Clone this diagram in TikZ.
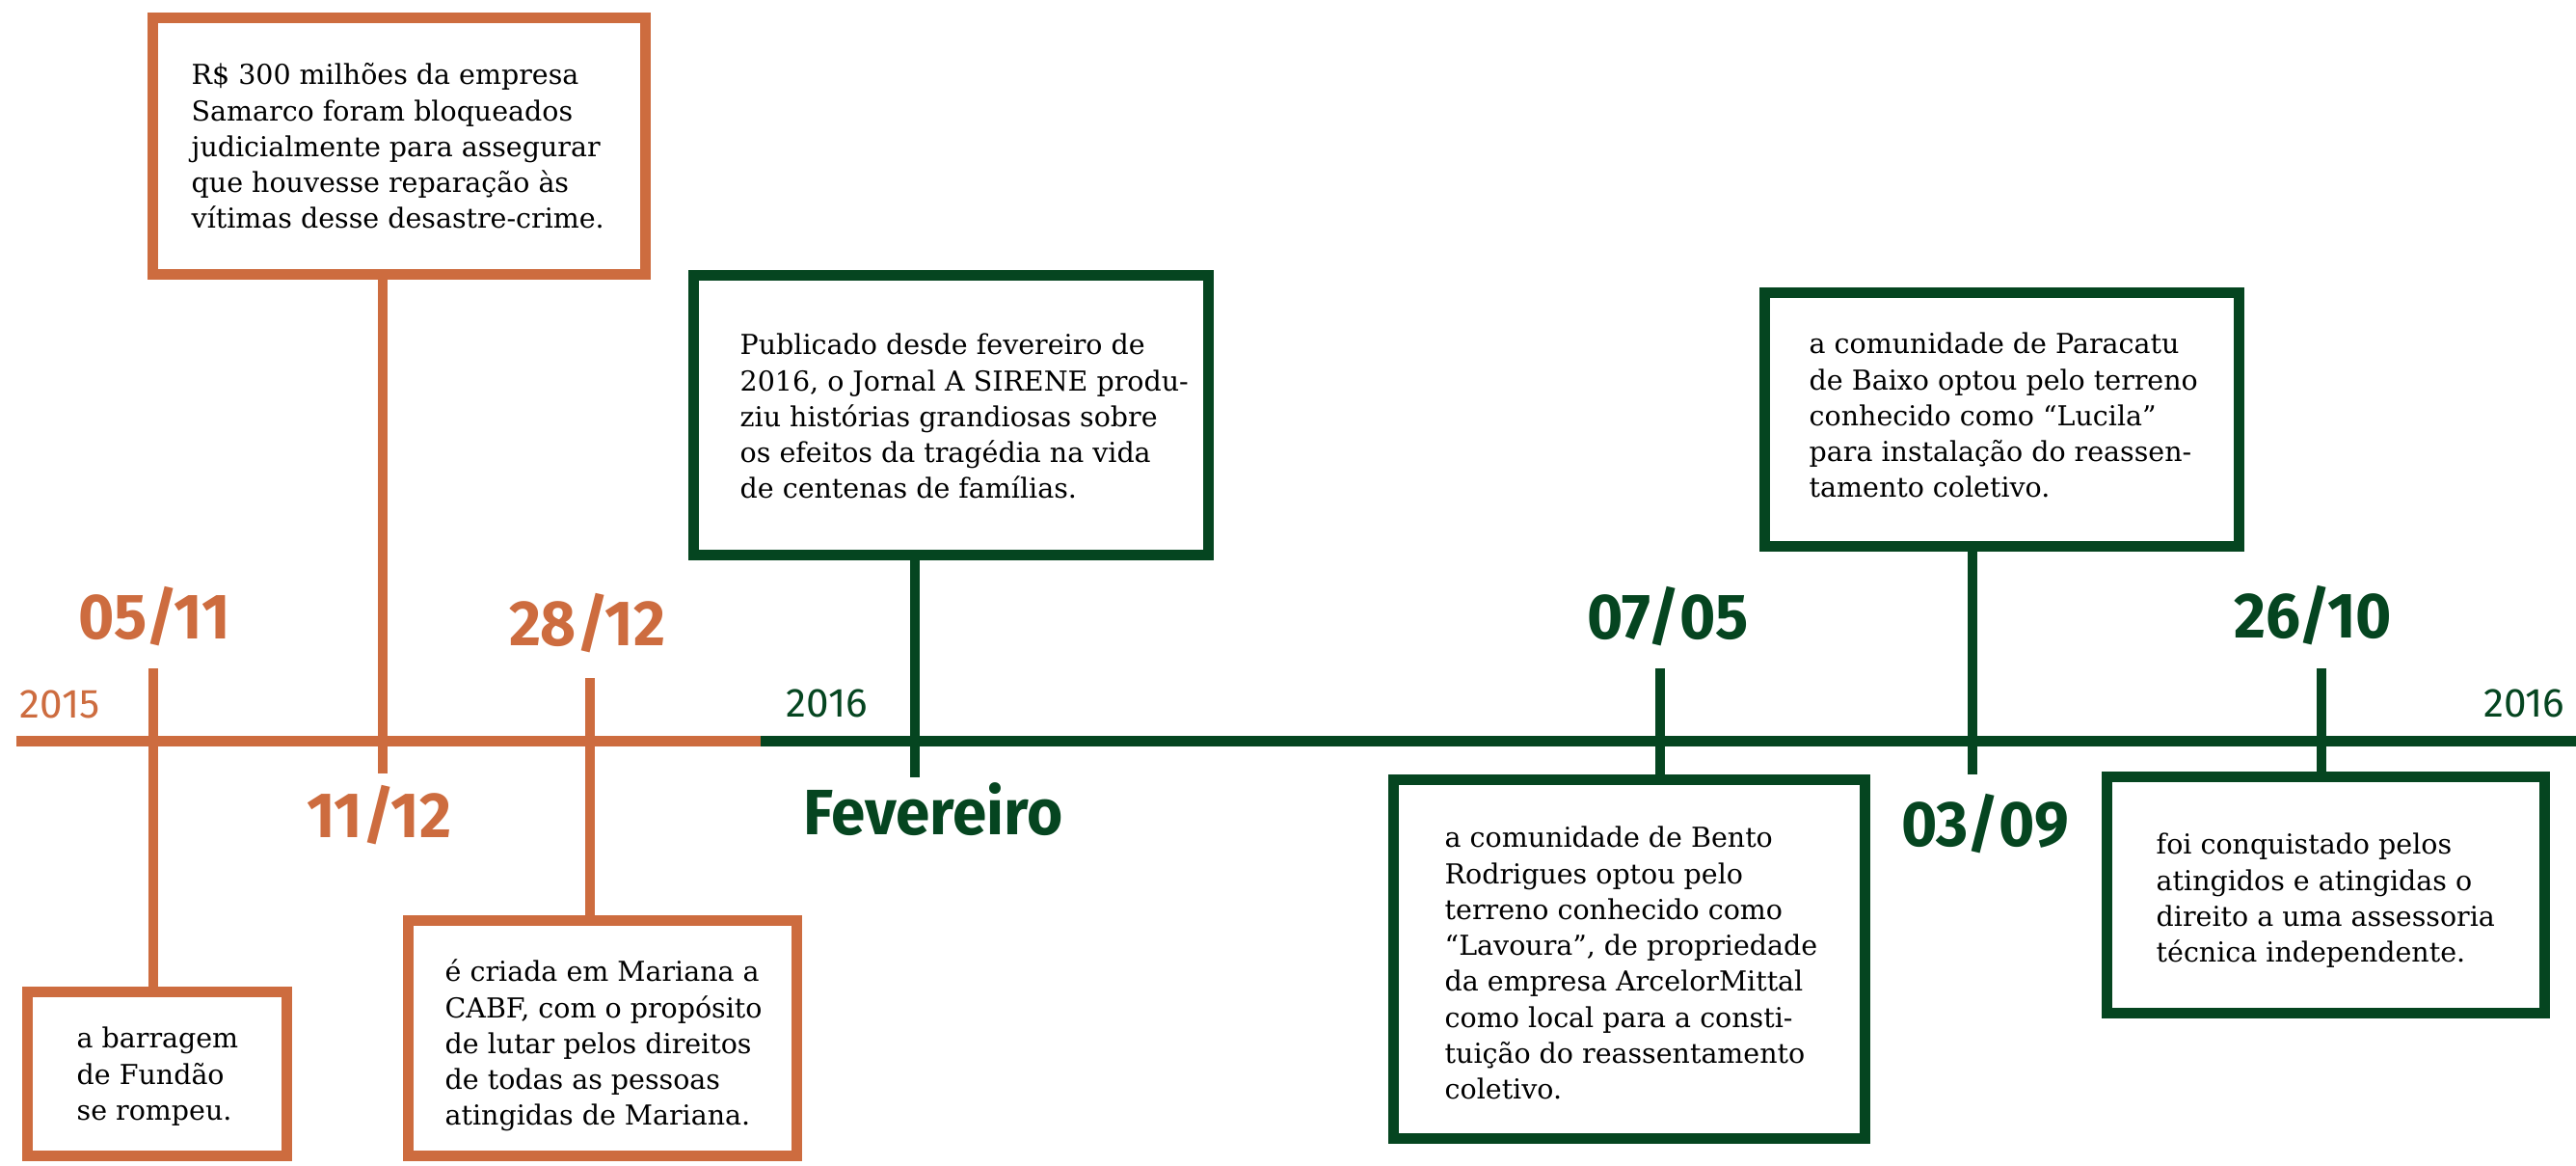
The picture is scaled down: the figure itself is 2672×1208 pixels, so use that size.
\documentclass[tikz,border=0pt]{standalone}
\usepackage{fontspec}
\setmainfont{DejaVu Serif}
\newfontfamily\datefont{Fira Sans}[FakeStretch=0.96]
\newfontfamily\yearfont{Fira Sans}
\definecolor{orng}{HTML}{CD6C3F}
\definecolor{grn}{HTML}{054520}
\tikzset{
  obox/.style={draw=orng, line width=0.107cm, inner sep=0pt, rectangle},
  gbox/.style={draw=grn, line width=0.107cm, inner sep=0pt, rectangle},
  oline/.style={draw=orng, line width=0.107cm},
  gline/.style={draw=grn, line width=0.107cm},
  txt/.style={anchor=north west, inner sep=0pt, align=left, text=black,
    font=\fontsize{8.1pt}{10.6pt}\selectfont},
  odate/.style={anchor=base, inner sep=0pt, text=orng,
    font=\datefont\bfseries\fontsize{18.9pt}{20pt}\selectfont},
  gdate/.style={anchor=base, inner sep=0pt, text=grn,
    font=\datefont\bfseries\fontsize{18.9pt}{20pt}\selectfont},
  yearlab/.style={inner sep=0pt, font=\yearfont\fontsize{12pt}{13pt}\selectfont}
}
\newcommand{\fl}{\rule{0pt}{0.4cm}}
\begin{document}
\begin{tikzpicture}[x=0.01cm,y=-0.01cm]
\useasboundingbox (0,0) rectangle (2672,1208);

% main line
\coordinate (L0) at (17,768.5);
\coordinate (Lm) at (789,768.5);
\coordinate (L1) at (2672,768.5);
\draw[oline] (L0) -- (Lm);
\draw[gline] (Lm) -- (L1);

% year labels
\node[yearlab, anchor=base west, text=orng] (y2015) at (20,744) {2015};
\node[yearlab, anchor=base west, text=grn] (y2016a) at (815,743) {2016};
\node[yearlab, anchor=base east, text=grn] (y2016b) at (2661,743) {2016};

% boxes
\node[obox, minimum width=2.693cm, minimum height=1.703cm] (bA) at (163,1113.5) {};
\node[obox, minimum width=5.113cm, minimum height=2.663cm] (bB) at (414,151.5) {};
\node[obox, minimum width=4.033cm, minimum height=2.443cm] (bC) at (625,1076.5) {};
\node[gbox, minimum width=5.343cm, minimum height=2.903cm] (bD) at (986.5,430.5) {};
\node[gbox, minimum width=4.893cm, minimum height=3.723cm] (bE) at (1690,994.5) {};
\node[gbox, minimum width=4.923cm, minimum height=2.633cm] (bF) at (2076.5,435) {};
\node[gbox, minimum width=4.543cm, minimum height=2.453cm] (bG) at (2412.5,928) {};

% texts
\node[txt] (tA) at (79,1046) {\fl a barragem\\de Fundão\\se rompeu.};
\node[txt] (tB) at (198,47) {\fl R\$ 300 milhões da empresa\\Samarco foram bloqueados\\judicialmente para assegurar\\que houvesse reparação às\\vítimas desse desastre-crime.};
\node[txt] (tC) at (461,977) {\fl é criada em Mariana a\\CABF, com o propósito\\de lutar pelos direitos\\de todas as pessoas\\atingidas de Mariana.};
\node[txt] (tD) at (767,327) {\fl Publicado desde fevereiro de\\2016, o Jornal A SIRENE produ-\\ziu histórias grandiosas sobre\\os efeitos da tragédia na vida\\de centenas de famílias.};
\node[txt] (tE) at (1498,838) {\fl a comunidade de Bento\\Rodrigues optou pelo\\terreno conhecido como\\“Lavoura”, de propriedade\\da empresa ArcelorMittal\\como local para a consti-\\tuição do reassentamento\\coletivo.};
\node[txt] (tF) at (1876,326) {\fl a comunidade de Paracatu\\de Baixo optou pelo terreno\\conhecido como “Lucila”\\para instalação do reassen-\\tamento coletivo.};
\node[txt] (tG) at (2236,845) {\fl foi conquistado pelos\\atingidos e atingidas o\\direito a uma assessoria\\técnica independente.};

% date labels
\node[odate] (d0511) at (160,662) {05/11};
\node[odate] (d1112) at (393,868) {11/12};
\node[odate] (d2812) at (609,669) {28/12};
\node[gdate] (dfev) at (968,865) {Fevereiro};
\node[gdate] (d0705) at (1730,662) {07/05};
\node[gdate] (d0309) at (2059,877) {03/09};
\node[gdate] (d2610) at (2399,661) {26/10};

% stems and ticks
\coordinate (kA) at (159,693);
\coordinate (sB) at (397,802);
\coordinate (kC) at (612,703);
\coordinate (sD) at (949,806);
\coordinate (kE) at (1722,693);
\coordinate (sF) at (2046,803);
\coordinate (kG) at (2408,693);
\draw[oline] (kA) -- (kA |- bA.north);
\draw[oline] (sB |- bB.south) -- (sB);
\draw[oline] (kC) -- (kC |- bC.north);
\draw[gline] (sD |- bD.south) -- (sD);
\draw[gline] (kE) -- (kE |- bE.north);
\draw[gline] (sF |- bF.south) -- (sF);
\draw[gline] (kG) -- (kG |- bG.north);
\end{tikzpicture}
\end{document}
